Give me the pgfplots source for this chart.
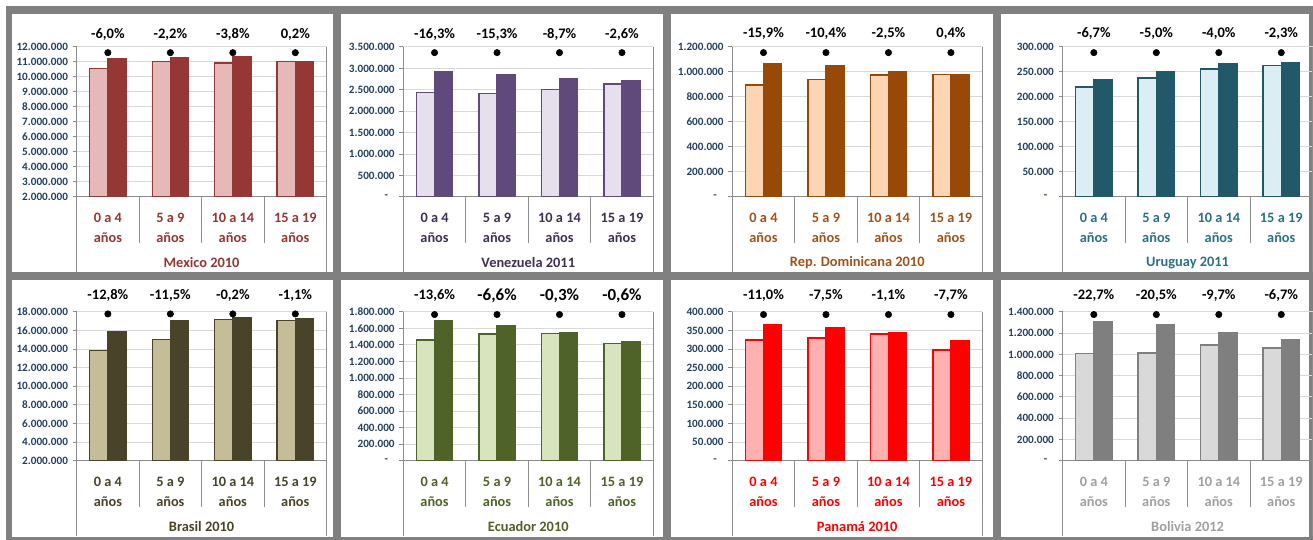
\documentclass[border=0pt]{standalone}
\usepackage{pgfplots}
\pgfplotsset{compat=1.18}
\usepackage{pgfplotstable}
\usepackage{fontspec}
\setmainfont{Carlito}

\definecolor{framegray}{HTML}{808080}
\definecolor{gridgray}{HTML}{D9D9D9}
\definecolor{axisgray}{HTML}{8C8C8C}
\definecolor{ticktext}{HTML}{243F60}
\definecolor{mexL}{HTML}{E6B9B8}\definecolor{mexD}{HTML}{953735}\definecolor{mexT}{HTML}{953735}
\definecolor{venL}{HTML}{E6E0EC}\definecolor{venD}{HTML}{604A7B}\definecolor{venT}{HTML}{403152}
\definecolor{domL}{HTML}{FCD5B5}\definecolor{domD}{HTML}{984807}\definecolor{domT}{HTML}{A0531A}
\definecolor{uruL}{HTML}{DBEEF4}\definecolor{uruD}{HTML}{215968}\definecolor{uruT}{HTML}{2B7185}
\definecolor{braL}{HTML}{C4BD97}\definecolor{braD}{HTML}{494429}\definecolor{braT}{HTML}{494429}
\definecolor{ecuL}{HTML}{D7E4BD}\definecolor{ecuD}{HTML}{4F6228}\definecolor{ecuT}{HTML}{4F6228}
\definecolor{panL}{HTML}{FFB0B0}\definecolor{panD}{HTML}{FF0000}\definecolor{panT}{HTML}{FF0000}
\definecolor{bolL}{HTML}{D9D9D9}\definecolor{bolD}{HTML}{7F7F7F}\definecolor{bolT}{HTML}{A0A0A0}

\newcommand\bigpct[1]{{\fontsize{12.75}{14}\selectfont #1}}

\pgfplotstableread{
x light dark dot pct
0 10550000 11220000 11620000 -6,0\%
1 11040000 11290000 11620000 -2,2\%
2 10930000 11360000 11620000 -3,8\%
3 11020000 11000000 11620000 0,2\%
}\mexico
\pgfplotstableread{
x light dark dot pct
0 2440000 2915000 3368000 -16,3\%
1 2411000 2847000 3368000 -15,3\%
2 2513000 2753000 3368000 -8,7\%
3 2640000 2707000 3368000 -2,6\%
}\venez
\pgfplotstableread{
x light dark dot pct
0 895000 1067000 1155000 -15,9\%
1 939000 1048000 1155000 -10,4\%
2 975000 1000000 1155000 -2,5\%
3 980000 976000 1155000 0,4\%
}\repdom
\pgfplotstableread{
x light dark dot pct
0 219500 235300 288700 -6,7\%
1 237500 250000 288700 -5,0\%
2 256000 266700 288700 -4,0\%
3 262500 268700 288700 -2,3\%
}\uruguay
\pgfplotstableread{
x light dark dot pct
0 13850000 15910000 17780000 -12,8\%
1 15050000 17030000 17780000 -11,5\%
2 17170000 17330000 17780000 -0,2\%
3 17060000 17240000 17780000 -1,1\%
}\brasil
\pgfplotstableread{
x light dark dot pct
0 1462000 1695000 1768000 -13,6\%
1 1530000 1635000 1768000 \bigpct{-6,6\%}
2 1542000 1550000 1768000 \bigpct{-0,3\%}
3 1421000 1438000 1768000 \bigpct{-0,6\%}
}\ecuador
\pgfplotstableread{
x light dark dot pct
0 325000 366000 392800 -11,0\%
1 330000 358000 392800 -7,5\%
2 340800 344500 392800 -1,1\%
3 297200 322100 392800 -7,7\%
}\panama
\pgfplotstableread{
x light dark dot pct
0 1011000 1309000 1375000 -22,7\%
1 1015000 1281000 1375000 -20,5\%
2 1088000 1206000 1375000 -9,7\%
3 1059000 1137000 1375000 -6,7\%
}\bolivia

\pgfplotsset{
  panel/.style={
    scale only axis, width=187.5pt, anchor=south west,
    xmin=-0.5, xmax=3.5,
    scaled y ticks=false,
    xtick={0,1,2,3},
    xticklabels={{0 a 4\\años},{5 a 9\\años},{10 a 14\\años},{15 a 19\\años}},
    xticklabel style={align=center, anchor=center, yshift=-20.5pt,
      font=\fontsize{10.75}{15}\selectfont\bfseries},
    xtick style={draw=none},
    xlabel style={at={(axis description cs:0.5,0)}, anchor=center, yshift=-49.5pt,
      font=\fontsize{10.8}{12}\selectfont\bfseries},
    axis x line*=bottom, axis y line*=left,
    axis line style={draw=axisgray, line width=0.75pt, -},
    ytick style={draw=axisgray, line width=0.75pt},
    tick align=outside, major tick length=3pt,
    yticklabel style={font=\fontsize{8.4}{10}\selectfont\bfseries, text=ticktext},
    ymajorgrids, major grid style={draw=gridgray, line width=0.75pt},
    extra description/.code={
      \draw[axisgray, line width=0.75pt] (0.25,0) -- ++(0,-34.5pt);
      \draw[axisgray, line width=0.75pt] (0.5,0) -- ++(0,-34.5pt);
      \draw[axisgray, line width=0.75pt] (0.75,0) -- ++(0,-34.5pt);
      \draw[axisgray, line width=0.75pt] (0,0) -- ++(0,-56.5pt);
      \draw[axisgray, line width=0.75pt] (1,1) -- (1,0) -- ++(0,-56.5pt);
    },
  },
  tcol/.style={xticklabel style={text=#1}, xlabel style={text=#1}},
  lightbar/.style={ybar, bar width=0.29, bar shift=-0.145, fill=#1L, draw=#1D, line width=1.1pt},
  darkbar/.style={ybar, bar width=0.29, bar shift=0.145, fill=#1D, draw=#1D, line width=1.1pt},
  dots/.style={only marks, mark=*, mark size=2.4pt, mark options={draw=black, fill=black},
    point meta=explicit symbolic, nodes near coords={\pgfplotspointmeta},
    every node near coord/.append style={font=\fontsize{10.9}{12}\selectfont\bfseries,
      text=black, anchor=center, yshift=14pt}},
}

\begin{document}
\begin{tikzpicture}
\fill[white] (0,0) rectangle (984.75pt,405pt);
\fill[framegray] (4.5pt,0) rectangle (984.75pt,400.5pt);
\foreach \xa/\xb in {9/249.75, 255.75/497.25, 503.25/744.75, 750.75/981.75}{
  \fill[white] (\xa pt,201pt) rectangle (\xb pt,394.5pt);
  \fill[white] (\xa pt,2.25pt) rectangle (\xb pt,195pt);
}

% Row 1
\begin{axis}[panel, tcol=mexT, at={(57.5pt,257.25pt)}, height=112.5pt,
  ymin=2000000, ymax=12000000,
  ytick={2000000,3000000,4000000,5000000,6000000,7000000,8000000,9000000,10000000,11000000,12000000},
  yticklabels={2.000.000,3.000.000,4.000.000,5.000.000,6.000.000,7.000.000,8.000.000,9.000.000,10.000.000,11.000.000,12.000.000},
  xlabel={Mexico 2010}]
\addplot[lightbar=mex] table[x=x,y=light]{\mexico};
\addplot[darkbar=mex] table[x=x,y=dark]{\mexico};
\addplot[dots] table[x=x,y=dot,meta=pct]{\mexico};
\end{axis}

\begin{axis}[panel, tcol=venT, at={(302.6pt,257.25pt)}, height=112.5pt,
  ymin=0, ymax=3500000,
  ytick={0,500000,1000000,1500000,2000000,2500000,3000000,3500000},
  yticklabels={{-\kern5pt},500.000,1.000.000,1.500.000,2.000.000,2.500.000,3.000.000,3.500.000},
  xlabel={Venezuela 2011}]
\addplot[lightbar=ven] table[x=x,y=light]{\venez};
\addplot[darkbar=ven] table[x=x,y=dark]{\venez};
\addplot[dots] table[x=x,y=dot,meta=pct]{\venez};
\end{axis}

\begin{axis}[panel, tcol=domT, at={(549.4pt,257.25pt)}, height=112.5pt,
  ymin=0, ymax=1200000,
  ytick={0,200000,400000,600000,800000,1000000,1200000},
  yticklabels={{-\kern5pt},200.000,400.000,600.000,800.000,1.000.000,1.200.000},
  xlabel={Rep. Dominicana 2010}]
\addplot[lightbar=dom] table[x=x,y=light]{\repdom};
\addplot[darkbar=dom] table[x=x,y=dark]{\repdom};
\addplot[dots] table[x=x,y=dot,meta=pct]{\repdom};
\end{axis}

\begin{axis}[panel, tcol=uruT, at={(797.25pt,257.25pt)}, height=112.5pt,
  ymin=0, ymax=300000,
  ytick={0,50000,100000,150000,200000,250000,300000},
  yticklabels={{-\kern5pt},50.000,100.000,150.000,200.000,250.000,300.000},
  xlabel={Uruguay 2011}]
\addplot[lightbar=uru] table[x=x,y=light]{\uruguay};
\addplot[darkbar=uru] table[x=x,y=dark]{\uruguay};
\addplot[dots] table[x=x,y=dot,meta=pct]{\uruguay};
\end{axis}

% Row 2
\begin{axis}[panel, tcol=braT, at={(57.5pt,59.25pt)}, height=111.75pt,
  ymin=2000000, ymax=18000000,
  ytick={2000000,4000000,6000000,8000000,10000000,12000000,14000000,16000000,18000000},
  yticklabels={2.000.000,4.000.000,6.000.000,8.000.000,10.000.000,12.000.000,14.000.000,16.000.000,18.000.000},
  xlabel={Brasil 2010}]
\addplot[lightbar=bra] table[x=x,y=light]{\brasil};
\addplot[darkbar=bra] table[x=x,y=dark]{\brasil};
\addplot[dots] table[x=x,y=dot,meta=pct]{\brasil};
\end{axis}

\begin{axis}[panel, tcol=ecuT, at={(302.6pt,59.25pt)}, height=111.75pt,
  ymin=0, ymax=1800000,
  ytick={0,200000,400000,600000,800000,1000000,1200000,1400000,1600000,1800000},
  yticklabels={{-\kern5pt},200.000,400.000,600.000,800.000,1.000.000,1.200.000,1.400.000,1.600.000,1.800.000},
  xlabel={Ecuador 2010}]
\addplot[lightbar=ecu] table[x=x,y=light]{\ecuador};
\addplot[darkbar=ecu] table[x=x,y=dark]{\ecuador};
\addplot[dots] table[x=x,y=dot,meta=pct]{\ecuador};
\end{axis}

\begin{axis}[panel, tcol=panT, at={(549.4pt,59.25pt)}, height=111.75pt,
  ymin=0, ymax=400000,
  ytick={0,50000,100000,150000,200000,250000,300000,350000,400000},
  yticklabels={{-\kern5pt},50.000,100.000,150.000,200.000,250.000,300.000,350.000,400.000},
  xlabel={Panamá 2010}]
\addplot[lightbar=pan] table[x=x,y=light]{\panama};
\addplot[darkbar=pan] table[x=x,y=dark]{\panama};
\addplot[dots] table[x=x,y=dot,meta=pct]{\panama};
\end{axis}

\begin{axis}[panel, tcol=bolT, at={(797.25pt,59.25pt)}, height=111.75pt,
  ymin=0, ymax=1400000,
  ytick={0,200000,400000,600000,800000,1000000,1200000,1400000},
  yticklabels={{-\kern5pt},200.000,400.000,600.000,800.000,1.000.000,1.200.000,1.400.000},
  xlabel={Bolivia 2012}]
\addplot[lightbar=bol] table[x=x,y=light]{\bolivia};
\addplot[darkbar=bol] table[x=x,y=dark]{\bolivia};
\addplot[dots] table[x=x,y=dot,meta=pct]{\bolivia};
\end{axis}
\end{tikzpicture}
\end{document}
